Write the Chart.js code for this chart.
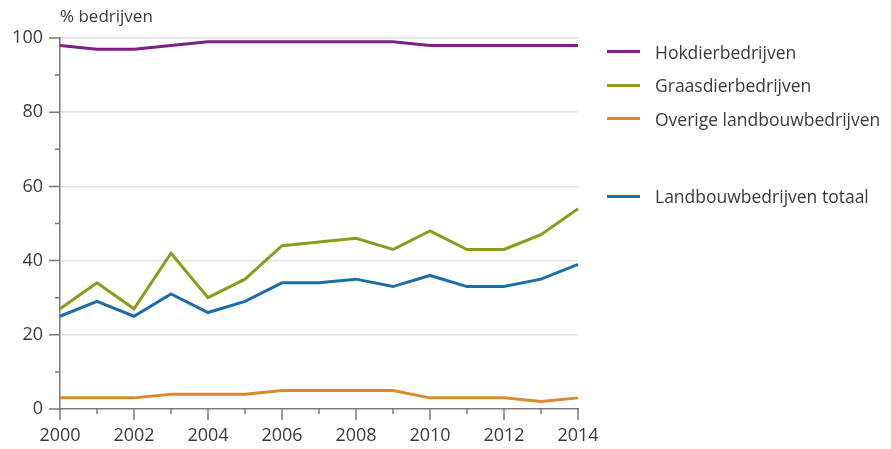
<!DOCTYPE html>
<html>
<head>
<meta charset="utf-8">
<script src="https://cdn.jsdelivr.net/npm/chart.js@4.4.1/dist/chart.umd.min.js"></script>
<style>
    html, body { margin: 0; padding: 0; background: #fff; }
    #wrap { position: relative; width: 891px; height: 449px; font-family: "Open Sans", sans-serif; color: #3a3a3a; }
    #chart { position: absolute; left: 0; top: 0; }
    #unit { position: absolute; left: 60px; top: 4px; font-size: 17px; }
    #legend { position: absolute; left: 607px; top: 35px; font-size: 17.5px; }
    .item { height: 33.5px; display: flex; align-items: center; }
    .item.gap { margin-top: 44px; }
    .swatch { width: 33px; height: 3px; margin-right: 15px; }
</style>
</head>
<body>
<div id="wrap">
    <canvas id="chart" width="891" height="449"></canvas>
    <div id="unit">% bedrijven</div>
    <div id="legend"></div>
</div>
<script>
// --- Data ---
const years = ['2000', '2001', '2002', '2003', '2004', '2005', '2006', '2007', '2008', '2009', '2010', '2011', '2012', '2013', '2014'];
const hokdier = [98, 97, 97, 98, 99, 99, 99, 99, 99, 99, 98, 98, 98, 98, 98];
const graasdier = [27, 34, 27, 42, 30, 35, 44, 45, 46, 43, 48, 43, 43, 47, 54];
const overige = [3, 3, 3, 4, 4, 4, 5, 5, 5, 5, 3, 3, 3, 2, 3];
const totaal = [25, 29, 25, 31, 26, 29, 34, 34, 35, 33, 36, 33, 33, 35, 39];

const axisColor = '#7a7a7a';

// draws short minor / long major tick marks on both axes
const tickMarks = {
    id: 'tickMarks',
    afterDraw(chart) {
        const c = chart.ctx;
        const x = chart.scales.x, y = chart.scales.y;
        const axisX = chart.chartArea.left;
        c.save();
        c.strokeStyle = axisColor;
        c.lineWidth = 1.5;
        c.beginPath();
        y.ticks.forEach(t => {
            const py = y.getPixelForValue(t.value);
            const len = t.value % 20 === 0 ? 11 : 5;
            c.moveTo(axisX - len, py);
            c.lineTo(axisX, py);
        });
        x.ticks.forEach((t, i) => {
            const px = x.getPixelForTick(i);
            const len = t.value % 2 === 0 ? 11 : 5;
            c.moveTo(px, x.top);
            c.lineTo(px, x.top + len);
        });
        c.stroke();
        c.restore();
    }
};

const ctx = document.getElementById('chart').getContext('2d');
const chart = new Chart(ctx, {
    type: 'line',
    data: {
        labels: years,
        datasets: [
            { label: 'Hokdierbedrijven', data: hokdier, borderColor: '#7e1f82' },
            { label: 'Graasdierbedrijven', data: graasdier, borderColor: '#8a9c1e' },
            { label: 'Overige landbouwbedrijven', data: overige, borderColor: '#d98a2e' },
            { label: 'Landbouwbedrijven totaal', data: totaal, borderColor: '#1c6ea6' }
        ]
    },
    options: {
        responsive: false,
        animation: false,
        layout: { padding: { top: 38, right: 313, bottom: 0, left: 0 } },
        elements: {
            line: { borderWidth: 3, tension: 0 },
            point: { radius: 0 }
        },
        plugins: { legend: { display: false }, tooltip: { enabled: false } },
        scales: {
            x: {
                offset: false,
                afterFit: (s) => { s.height = 40; },
                border: { color: axisColor, width: 1.5 },
                grid: { display: false, drawTicks: false },
                ticks: {
                    autoSkip: false, maxRotation: 0, padding: 16,
                    color: '#3a3a3a', font: { family: 'Open Sans', size: 18 },
                    callback: (v, i) => (i % 2 === 0 ? years[i] : '')
                }
            },
            y: {
                min: 0, max: 100,
                afterFit: (s) => { s.width = 60; },
                border: { color: axisColor, width: 1.5 },
                grid: {
                    drawTicks: false,
                    color: (c) => (c.tick.value % 20 === 0 && c.tick.value !== 0 ? '#e2e2e2' : 'rgba(0,0,0,0)'),
                    lineWidth: 1.5
                },
                ticks: {
                    stepSize: 10, padding: 17,
                    color: '#3a3a3a', font: { family: 'Open Sans', size: 18 },
                    callback: (v) => (v % 20 === 0 ? v : '')
                }
            }
        }
    },
    plugins: [tickMarks]
});

// --- HTML legend built from the datasets ---
const legend = document.getElementById('legend');
chart.data.datasets.forEach((ds, i) => {
    const item = document.createElement('div');
    item.className = 'item' + (i === 3 ? ' gap' : '');
    item.innerHTML = '<span class="swatch" style="background:' + ds.borderColor + '"></span>' + ds.label;
    legend.appendChild(item);
});
</script>
</body>
</html>
